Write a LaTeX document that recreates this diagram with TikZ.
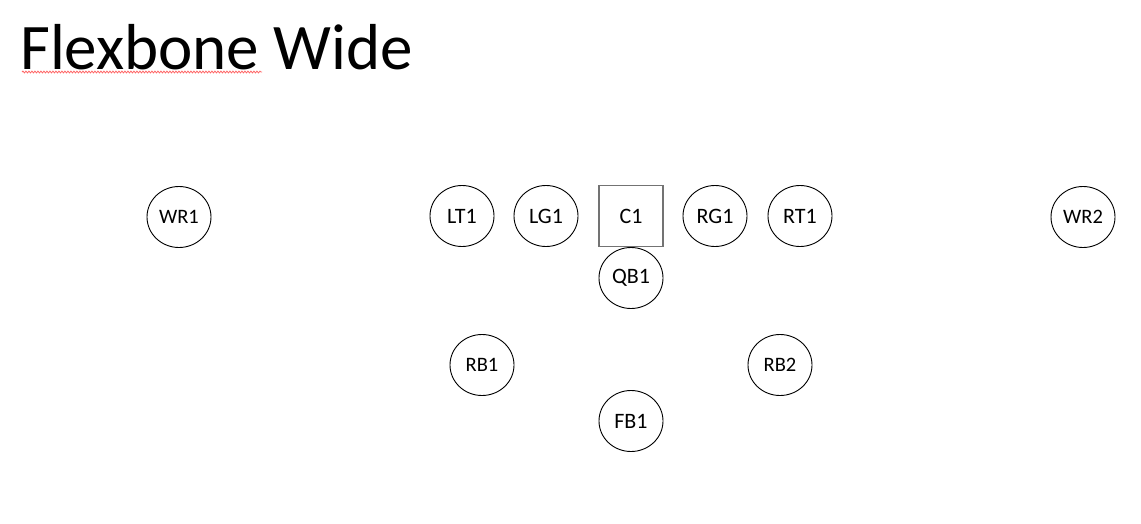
\documentclass[tikz,border=0pt]{standalone}
\usepackage{fontspec}
\setmainfont{Carlito}
\usetikzlibrary{shapes.geometric,decorations.pathmorphing}
\tikzset{
  player/.style={ellipse, draw=black, line width=0.9pt, minimum width=64pt, minimum height=61pt, inner sep=0pt, font=\fontsize{22}{24}\selectfont},
  smallplayer/.style={player, font=\fontsize{20.5}{22}\selectfont},
  centerbox/.style={rectangle, draw=black!55, line width=1.3pt, minimum width=64pt, minimum height=61pt, inner sep=0pt, font=\fontsize{22}{24}\selectfont},
  squiggle/.style={draw=red!60, line width=0.8pt, decorate, decoration={snake, amplitude=0.9pt, segment length=3pt}}
}
\begin{document}
\begin{tikzpicture}[x=1pt,y=-1pt]
\useasboundingbox (0,0) rectangle (1141,523);
\node[anchor=base west, inner sep=0pt, font=\fontsize{65}{68}\selectfont] (title) at (20,69) {Flexbone Wide};
\coordinate (sqA) at (22,72);
\coordinate (sqB) at (262,72);
\draw[squiggle] (sqA) -- (sqB);
\node[smallplayer] (WR1) at (179,217) {WR1};
\node[player] (LT1) at (462,216) {LT1};
\node[player] (LG1) at (546,216) {LG1};
\node[centerbox] (C1) at (631,216) {C1};
\node[player] (RG1) at (715,216) {RG1};
\node[player] (RT1) at (800,216) {RT1};
\node[smallplayer] (WR2) at (1083,217) {WR2};
\node[player] (QB1) at (631,278) {QB1};
\node[smallplayer] (RB1) at (482,365) {RB1};
\node[smallplayer] (RB2) at (780,365) {RB2};
\node[player] (FB1) at (631,421) {FB1};
\end{tikzpicture}
\end{document}
